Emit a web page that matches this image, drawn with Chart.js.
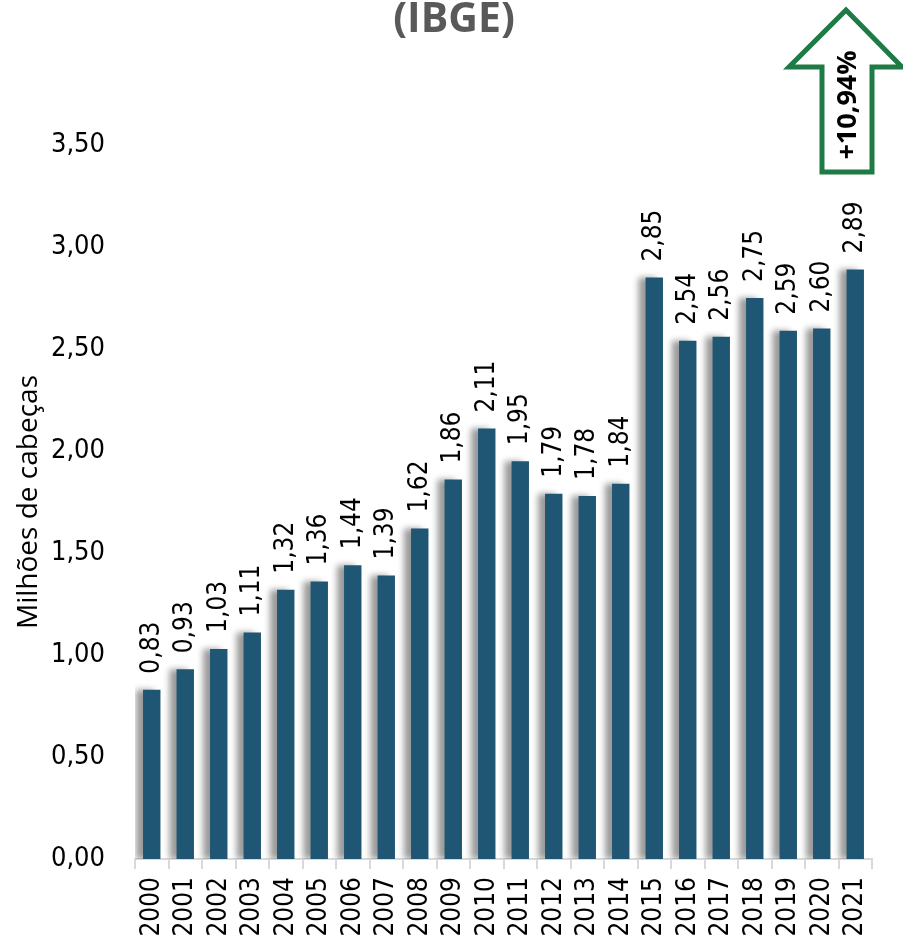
<!DOCTYPE html>
<html>
<head>
<meta charset="utf-8">
<script src="https://cdn.jsdelivr.net/npm/chart.js@4.4.1/dist/chart.umd.min.js"></script>
<style>
html,body{margin:0;padding:0;background:#fff;}
#wrap{width:903px;height:945px;position:relative;}
</style>
</head>
<body>
<div id="wrap"><canvas id="c" width="903" height="945"></canvas></div>
<script>
const years = ['2000','2001','2002','2003','2004','2005','2006','2007','2008','2009','2010','2011','2012','2013','2014','2015','2016','2017','2018','2019','2020','2021'];
const heads = [0.83,0.93,1.03,1.11,1.32,1.36,1.44,1.39,1.62,1.86,2.11,1.95,1.79,1.78,1.84,2.85,2.54,2.56,2.75,2.59,2.60,2.89];
const titleText = '(IBGE)';
const yTitle = 'Milhões de cabeças';
const growthText = '+10,94%';

const fmt = v => v.toFixed(2).replace('.', ',');
const FONT = '"DejaVu Sans Condensed", "DejaVu Sans"';

const shadowPlugin = {
  id: 'shadow',
  beforeDatasetDraw(chart) {
    const ctx = chart.ctx;
    ctx.save();
    ctx.shadowColor = 'rgba(0,0,0,0.4)';
    ctx.shadowBlur = 6;
    ctx.shadowOffsetX = -7;
    ctx.shadowOffsetY = 0;
  },
  afterDatasetDraw(chart) {
    chart.ctx.restore();
  }
};

const labelPlugin = {
  id: 'labels',
  afterDatasetsDraw(chart) {
    const ctx = chart.ctx;
    const meta = chart.getDatasetMeta(0);
    ctx.save();
    ctx.font = '26px ' + FONT;
    ctx.fillStyle = '#000';
    ctx.textAlign = 'left';
    ctx.textBaseline = 'middle';
    meta.data.forEach((bar, i) => {
      ctx.save();
      ctx.translate(bar.x, bar.y - 16);
      ctx.rotate(-Math.PI / 2);
      ctx.fillText(fmt(heads[i]), 0, 0);
      ctx.restore();
    });
    ctx.restore();
  }
};

const decoPlugin = {
  id: 'deco',
  afterDraw(chart) {
    const ctx = chart.ctx;
    ctx.save();
    // title
    ctx.font = 'bold 41px "Open Sans"';
    ctx.fillStyle = '#595959';
    ctx.textAlign = 'center';
    ctx.textBaseline = 'middle';
    ctx.fillText(titleText, 454, 20);
    // arrow
    ctx.beginPath();
    ctx.moveTo(846, 10);
    ctx.lineTo(902, 67);
    ctx.lineTo(872, 67);
    ctx.lineTo(872, 172);
    ctx.lineTo(822, 172);
    ctx.lineTo(822, 67);
    ctx.lineTo(789, 67);
    ctx.closePath();
    ctx.fillStyle = '#fff';
    ctx.fill();
    ctx.lineWidth = 5;
    ctx.strokeStyle = '#1E7B45';
    ctx.lineJoin = 'miter';
    ctx.stroke();
    ctx.translate(848, 105);
    ctx.rotate(-Math.PI / 2);
    ctx.font = 'bold 27px "Open Sans"';
    ctx.fillStyle = '#000';
    ctx.textAlign = 'center';
    ctx.textBaseline = 'middle';
    ctx.fillText(growthText, 0, 0);
    ctx.restore();
  }
};

new Chart(document.getElementById('c'), {
  type: 'bar',
  data: {
    labels: years,
    datasets: [{
      data: heads,
      backgroundColor: '#1F5673',
      borderWidth: 0,
      categoryPercentage: 1,
      barPercentage: 0.52
    }]
  },
  options: {
    responsive: false,
    animation: false,
    devicePixelRatio: 1,
    layout: { padding: { top: 145, right: 31, left: 0, bottom: 0 } },
    plugins: { legend: { display: false }, tooltip: { enabled: false }, title: { display: false } },
    scales: {
      x: {
        offset: true,
        grid: { display: true, drawOnChartArea: false, drawTicks: true, tickLength: 10, color: '#d9d9d9', offset: true, lineWidth: 2 },
        border: { display: true, color: '#d9d9d9', width: 2 },
        ticks: { font: { family: FONT, size: 26 }, color: '#000', maxRotation: 90, minRotation: 90, padding: 8, autoSkip: false },
        afterFit(scale) { scale.height = 86; }
      },
      y: {
        min: 0, max: 3.5,
        ticks: { stepSize: 0.5, font: { family: FONT, size: 27 }, color: '#000', padding: 22, callback: v => fmt(v) },
        grid: { display: false },
        border: { display: false },
        title: { display: true, text: yTitle, font: { family: 'Open Sans', size: 28 }, color: '#000', padding: { top: 12, bottom: 0 } },
        afterFit(scale) { scale.width = 135; }
      }
    }
  },
  plugins: [shadowPlugin, labelPlugin, decoPlugin]
});
</script>
</body>
</html>
